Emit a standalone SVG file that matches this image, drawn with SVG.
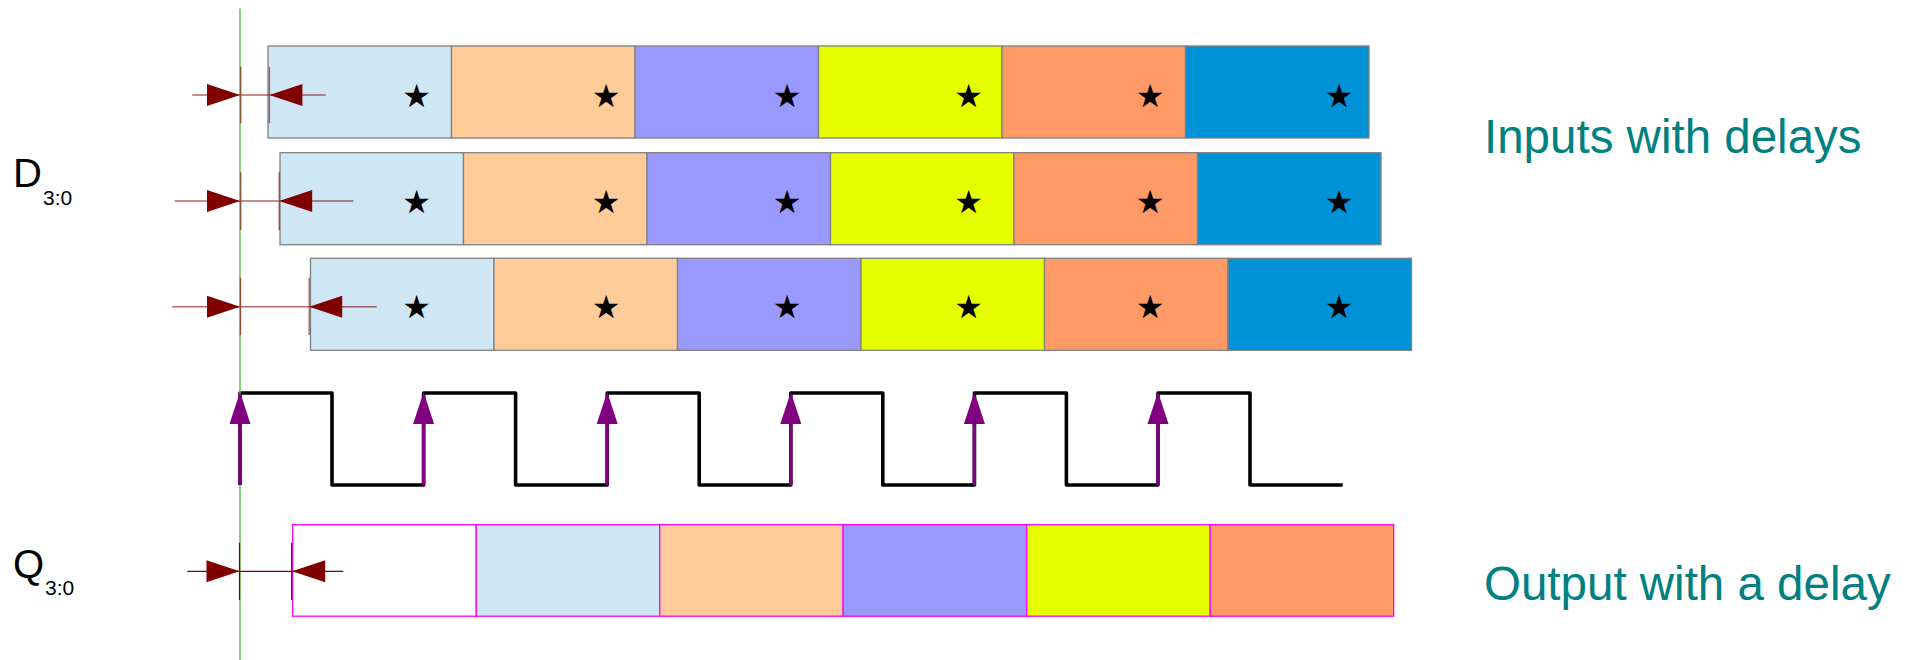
<svg xmlns="http://www.w3.org/2000/svg" xmlns:xlink="http://www.w3.org/1999/xlink" width="1912" height="660" viewBox="0 0 1912 660">
<style>
.lbl{font-family:"Liberation Sans",Arial,sans-serif;fill:#000}
.big{font-size:40px}
.sub{font-size:21px}
.note{font-family:"Liberation Sans",Arial,sans-serif;font-size:47.5px;fill:#008080}
.star{font-family:"DejaVu Sans",sans-serif;font-size:32px;fill:#000;text-anchor:middle;dominant-baseline:central}
.cell{stroke:#808080;stroke-width:1.3}
.qcell{stroke:#ff00ff;stroke-width:1.3}
.c0{fill:#ffffff}.c1{fill:#cfe6f4}.c2{fill:#ffcc99}.c3{fill:#9999ff}.c4{fill:#e6ff00}.c5{fill:#ff9966}.c6{fill:#0092d6}
.dim{stroke:#800000;stroke-opacity:0.6;stroke-width:1.4;fill:none}
.dimq{stroke:#800000;stroke-width:1.2;fill:none}
.tri{fill:#800000}
.clk{fill:none;stroke:#000;stroke-width:3.6;stroke-linejoin:round}
.edge{stroke:#800080;stroke-width:3.4;fill:none;marker-end:url(#ph)}
.ref{stroke:#72bf60;stroke-width:1.6}
</style>
<defs>
<marker id="ph" markerUnits="userSpaceOnUse" markerWidth="33" markerHeight="22" viewBox="0 0 33 22" refX="14" refY="11" orient="auto">
<path d="M0,0.5 L32,11 L0,21.5 z" fill="#800080"/>
</marker>
<path id="trR" d="M-33,-11 L0,0 L-33,11 z" class="tri"/>
<path id="trL" d="M33,-11 L0,0 L33,11 z" class="tri"/>
</defs>
<rect width="1912" height="660" fill="#fff"/>

<g id="labels">
<text class="lbl big" x="13" y="186.7">D</text>
<text class="lbl sub" x="43" y="205">3:0</text>
<text class="lbl big" x="13" y="578">Q</text>
<text class="lbl sub" x="45" y="595">3:0</text>
<text class="note" x="1484" y="153">Inputs with delays</text>
<text class="note" x="1484" y="600">Output with a delay</text>
</g>

<g id="row-d1">
<rect class="cell c1" x="268" y="46" width="183.5" height="92"/>
<rect class="cell c2" x="451.5" y="46" width="183.5" height="92"/>
<rect class="cell c3" x="635" y="46" width="183.5" height="92"/>
<rect class="cell c4" x="818.5" y="46" width="183.5" height="92"/>
<rect class="cell c5" x="1002" y="46" width="183.5" height="92"/>
<rect class="cell c6" x="1185.5" y="46" width="183.5" height="92"/>
<text class="star" x="416.7" y="95.5">★</text>
<text class="star" x="606" y="95.5">★</text>
<text class="star" x="787" y="95.5">★</text>
<text class="star" x="968.6" y="95.5">★</text>
<text class="star" x="1150.2" y="95.5">★</text>
<text class="star" x="1339.2" y="95.5">★</text>
</g>

<g id="row-d2">
<rect class="cell c1" x="280" y="152.7" width="183.5" height="92"/>
<rect class="cell c2" x="463.5" y="152.7" width="183.5" height="92"/>
<rect class="cell c3" x="647" y="152.7" width="183.5" height="92"/>
<rect class="cell c4" x="830.5" y="152.7" width="183.5" height="92"/>
<rect class="cell c5" x="1014" y="152.7" width="183.5" height="92"/>
<rect class="cell c6" x="1197.5" y="152.7" width="183.5" height="92"/>
<text class="star" x="416.7" y="201.5">★</text>
<text class="star" x="606" y="201.5">★</text>
<text class="star" x="787" y="201.5">★</text>
<text class="star" x="968.6" y="201.5">★</text>
<text class="star" x="1150.2" y="201.5">★</text>
<text class="star" x="1339.2" y="201.5">★</text>
</g>

<g id="row-d3">
<rect class="cell c1" x="310.5" y="258.3" width="183.5" height="92"/>
<rect class="cell c2" x="494" y="258.3" width="183.5" height="92"/>
<rect class="cell c3" x="677.5" y="258.3" width="183.5" height="92"/>
<rect class="cell c4" x="861" y="258.3" width="183.5" height="92"/>
<rect class="cell c5" x="1044.5" y="258.3" width="183.5" height="92"/>
<rect class="cell c6" x="1228" y="258.3" width="183.5" height="92"/>
<text class="star" x="416.7" y="307.2">★</text>
<text class="star" x="606" y="307.2">★</text>
<text class="star" x="787" y="307.2">★</text>
<text class="star" x="968.6" y="307.2">★</text>
<text class="star" x="1150.2" y="307.2">★</text>
<text class="star" x="1339.2" y="307.2">★</text>
</g>

<g id="row-q">
<rect class="qcell c0" x="292.7" y="524.7" width="183.5" height="91.5"/>
<rect class="qcell c1" x="476.2" y="524.7" width="183.5" height="91.5"/>
<rect class="qcell c2" x="659.7" y="524.7" width="183.5" height="91.5"/>
<rect class="qcell c3" x="843.2" y="524.7" width="183.5" height="91.5"/>
<rect class="qcell c4" x="1026.7" y="524.7" width="183.5" height="91.5"/>
<rect class="qcell c5" x="1210.2" y="524.7" width="183.5" height="91.5"/>
</g>

<g id="clock">
<path class="clk" d="M240,485 V393 H332 V485 H423.6 V393 H515.6 V485 H607.2 V393 H699.2 V485 H790.8 V393 H882.8 V485 H974.4 V393 H1066.4 V485 H1158 V393 H1250 V485 H1342.7"/>
</g>

<g id="connectors">
<line class="ref" x1="240" y1="8.5" x2="240" y2="660"/>
<line class="edge" x1="240" y1="485" x2="240" y2="410"/>
<line class="edge" x1="423.6" y1="485" x2="423.6" y2="410"/>
<line class="edge" x1="607.2" y1="485" x2="607.2" y2="410"/>
<line class="edge" x1="790.8" y1="485" x2="790.8" y2="410"/>
<line class="edge" x1="974.4" y1="485" x2="974.4" y2="410"/>
<line class="edge" x1="1158" y1="485" x2="1158" y2="410"/>

<g id="delay-d1">
<path class="dim" d="M192.2,95 H325.7 M240.8,66.7 V123.3 M269.4,66.7 V123.3"/>
<use xlink:href="#trR" x="240" y="95"/>
<use xlink:href="#trL" x="269.4" y="95"/>
</g>
<g id="delay-d2">
<path class="dim" d="M174.7,201 H353.5 M240.8,172.3 V230 M279.2,172.3 V230"/>
<use xlink:href="#trR" x="240" y="201"/>
<use xlink:href="#trL" x="279.2" y="201"/>
</g>
<g id="delay-d3">
<path class="dim" d="M172.2,306.7 H376.7 M240.5,277.7 V335 M309.2,277.7 V335"/>
<use xlink:href="#trR" x="240" y="306.7"/>
<use xlink:href="#trL" x="309.2" y="306.7"/>
</g>
<g id="delay-q">
<path class="dimq" d="M187.3,571.3 H343.3 M239.5,542.7 V600 M291.7,542.7 V600"/>
<use xlink:href="#trR" x="239.5" y="571.3"/>
<use xlink:href="#trL" x="292.2" y="571.3"/>
</g>
</g>
</svg>
